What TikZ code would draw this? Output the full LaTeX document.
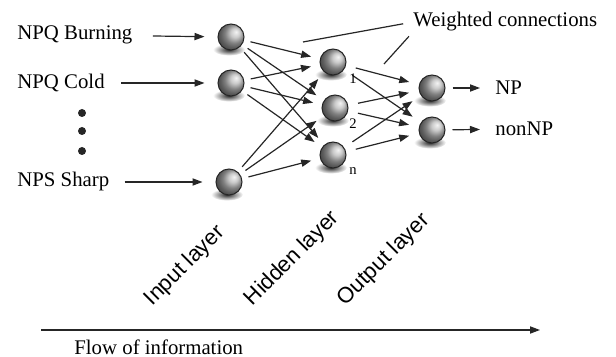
\documentclass[tikz,border=0pt]{standalone}
\usepackage{fontspec}
\setmainfont{Liberation Serif}
\setsansfont{Liberation Sans}
\usetikzlibrary{arrows.meta,backgrounds}

\begin{document}
\begin{tikzpicture}[x=0.5pt,y=-0.5pt,
    neuron/.style={circle, draw=black!85, line width=0.5pt, minimum size=13pt, inner sep=0pt, ball color=black!28, shading angle=-90},
    lab/.style={font=\fontsize{10.4}{12}\selectfont, inner sep=0pt, anchor=west},
    layer/.style={font=\sffamily\fontsize{11}{13}\selectfont, rotate=45, anchor=south west, inner sep=0pt},
    num/.style={font=\fontsize{7.3}{9}\selectfont, inner sep=0pt},
    link/.style={black!85, line width=0.6pt, -{Triangle[length=5pt,width=3.6pt]}},
    note/.style={black!85, line width=0.6pt}]

    \useasboundingbox (0,0) rectangle (616,357);

    % 1. The neurons of the three layers
    \node[neuron] (i1) at (231,37) {};
    \node[neuron] (i2) at (231,83) {};
    \node[neuron] (i3) at (229,182) {};
    \node[neuron] (h1) at (333,62) {};
    \node[neuron] (h2) at (335,108) {};
    \node[neuron] (h3) at (333,155) {};
    \node[neuron] (o1) at (432,88) {};
    \node[neuron] (o2) at (432,130) {};

    % shadows under the balls
    \begin{scope}[on background layer]
        \foreach \n in {i1,i2,i3,h1,h2,h3,o1,o2} {
            \shade[inner color=black!85, outer color=white] ([xshift=-1pt,yshift=-6.3pt]\n.center) ellipse (8pt and 3pt);
        }
    \end{scope}

    % 2. Inputs and their arrows
    \node[lab] (burn) at (17,35) {NPQ Burning};
    \node[lab] (cold) at (17,83) {NPQ Cold};
    \node[lab] (sharp) at (17,182) {NPS Sharp};
    \foreach \y in {113,131,151} {
        \fill[black!85] (82,\y) circle (2pt);
    }
    \foreach \a/\b/\g in {burn/i1/10pt, cold/i2/8pt, sharp/i3/7.5pt} {
        \draw[link, shorten <=\g, shorten >=6.5pt] (\a) -- (\b);
    }

    % 3. Weighted connections between the layers
    \foreach \a in {i1,i2,i3} {
        \foreach \b in {h1,h2,h3} {
            \draw[link, shorten <=3.3pt, shorten >=4.5pt] (\a) -- (\b);
        }
    }
    \foreach \a in {h1,h2,h3} {
        \foreach \b in {o1,o2} {
            \draw[link, shorten <=5pt, shorten >=5pt] (\a) -- (\b);
        }
    }
    \node[num] (n1) at (353,79) {1};
    \node[num] (n2) at (353,124) {2};
    \node[num] (n3) at (353,171) {n};

    \node[lab] (wc) at (413,22) {Weighted connections};
    \coordinate (w1) at (303,42);
    \coordinate (w2) at (384,64);
    \draw[note, shorten <=5pt] (wc.west) -- (w1);
    \draw[note, shorten <=3pt] (wc.south west) -- (w2);

    % 4. Outputs
    \node[lab] (np) at (495,88) {NP};
    \node[lab] (nonnp) at (495,129) {nonNP};
    \draw[link, shorten <=3.5pt, shorten >=7.5pt] (o1) -- (np);
    \draw[link, shorten <=3.5pt, shorten >=7.5pt] (o2) -- (nonnp);

    % 5. Layer names and flow
    \node[layer] (inlay) at (156,310) {Input layer};
    \node[layer] (hidlay) at (256,310) {Hidden layer};
    \node[layer] (outlay) at (349,310) {Output layer};

    \coordinate (f0) at (41,330);
    \coordinate (f1) at (540,330);
    \draw[link] (f0) -- (f1);
    \node[lab] (flow) at (74,347) {Flow of information};

\end{tikzpicture}
\end{document}
